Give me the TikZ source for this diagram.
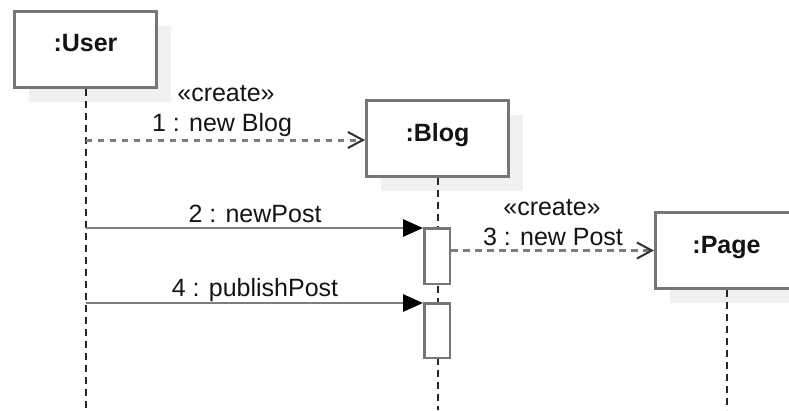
\documentclass[tikz,border=0pt]{standalone}
\usepackage{fontspec}
\setmainfont{Liberation Sans}
\usetikzlibrary{arrows.meta,shadows}
\definecolor{boxgray}{RGB}{118,118,118}
\definecolor{shadowgray}{RGB}{240,240,240}
\definecolor{msggray}{RGB}{125,125,125}
\definecolor{txt}{RGB}{20,20,20}
\begin{document}
\begin{tikzpicture}[x=1pt,y=-1pt,
  obj/.style={draw=boxgray, line width=3pt, fill=white, minimum width=142pt,
    minimum height=76pt, inner sep=0pt,
    drop shadow={shadow xshift=14pt, shadow yshift=-14pt, fill=shadowgray, opacity=1}},
  objtext/.style={font=\fontsize{25}{30}\selectfont\bfseries, text=txt, inner sep=0pt, anchor=base},
  lbl/.style={font=\fontsize{25}{30}\selectfont, text=txt, inner sep=0pt, anchor=base},
  actbox/.style={draw=boxgray, line width=2.5pt, fill=white, minimum width=25.5pt, inner sep=0pt},
  lifeline/.style={draw=black!85, line width=2pt, dash pattern=on 6.5pt off 5.5pt},
  createmsg/.style={draw=msggray, line width=3pt, dash pattern=on 6.5pt off 5.5pt,
    -{Straight Barb[length=15pt,width=16pt,line width=2pt,color=black!80]}},
  callmsg/.style={draw=msggray, line width=2.8pt,
    -{Triangle[length=20pt,width=17pt,color=black]}}
]
\useasboundingbox (0,0) rectangle (789,410);
\clip (0,0) rectangle (789,410);
\coordinate (bot) at (0,410);

% objects
\node[obj] (user) at (85.5,49.5) {};
\node[objtext] (usertext) at (85.5,51.5) {:User};
\node[obj] (blog) at (437.5,138.5) {};
\node[objtext] (blogtext) at (437.5,141) {:Blog};
\node[obj] (page) at (726.5,250.5) {};
\node[objtext] (pagetext) at (726.5,253) {:Page};

% lifelines
\draw[lifeline] (user.south) -- (user.south |- bot);
\draw[lifeline] (blog.south) -- (blog.south |- bot);
\draw[lifeline] (page.south) -- (page.south |- bot);

% activations
\node[actbox, minimum height=55.5pt] (act1) at (437,256) {};
\node[actbox, minimum height=54.5pt] (act2) at (437,330.5) {};

% message anchors on the User lifeline
\coordinate (u1) at (85.5,140);
\coordinate (u2) at (85.5,228);
\coordinate (u4) at (85.5,303);

% messages
\draw[createmsg] (u1) -- (u1 -| blog.west);
\draw[callmsg] (u2) -- (u2 -| act1.west);
\draw[createmsg] (act1.east |- page.west) -- (page.west);
\draw[callmsg] (u4) -- (u4 -| act2.west);

% labels
\node[lbl] (s1) at (226,101.5) {«create»};
\node[lbl] (m1) at (222,131.5) {1 : new Blog};
\node[lbl] (m2) at (255,222) {2 : newPost};
\node[lbl] (s3) at (552,215) {«create»};
\node[lbl] (m3) at (553,245.5) {3 : new Post};
\node[lbl] (m4) at (255,296) {4 : publishPost};
\end{tikzpicture}
\end{document}
